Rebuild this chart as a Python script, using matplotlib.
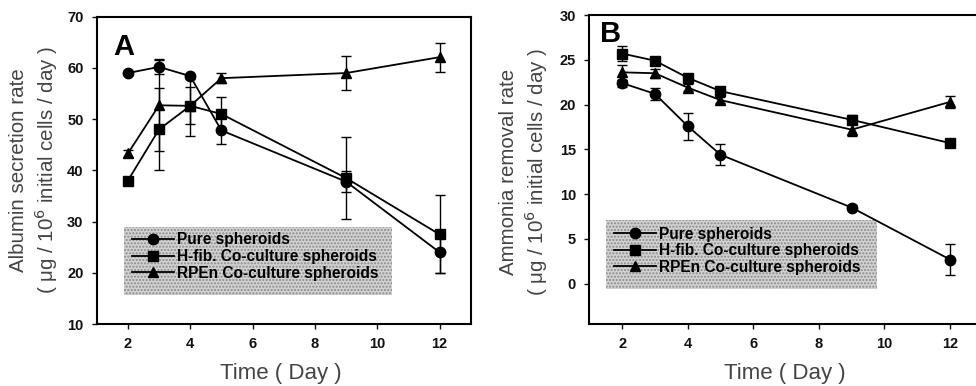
import matplotlib
matplotlib.use("Agg")
import matplotlib.pyplot as plt
from matplotlib.patches import Rectangle
from matplotlib.lines import Line2D

plt.rcParams['font.family'] = ['Liberation Sans', 'DejaVu Sans']

days = [2, 3, 4, 5, 9, 12]
labels = ["Pure spheroids", "H-fib. Co-culture spheroids", "RPEn Co-culture spheroids"]

# Panel A: albumin secretion
alb_pure = [59.0, 60.2, 58.4, 47.8, 37.8, 24.0]
alb_pure_err = [0.4, 1.3, 0.5, 2.7, 2.0, 4.0]
alb_hfib = [38.0, 48.0, 52.6, 51.0, 38.5, 27.5]
alb_hfib_err = [0.4, 8.0, 5.8, 3.3, 8.0, 7.6]
alb_rpen = [43.3, 52.7, 52.6, 58.0, 59.0, 62.1]
alb_rpen_err = [0.6, 9.0, 3.6, 1.0, 3.3, 2.8]

# Panel B: ammonia removal
amm_pure = [22.4, 21.2, 17.6, 14.4, 8.5, 2.7]
amm_pure_err = [0.4, 0.7, 1.5, 1.2, 0.3, 1.7]
amm_hfib = [25.7, 24.9, 23.0, 21.5, 18.3, 15.7]
amm_hfib_err = [0.8, 0.4, 0.3, 0.3, 0.5, 0.2]
amm_rpen = [23.6, 23.5, 21.9, 20.5, 17.2, 20.3]
amm_rpen_err = [0.8, 0.5, 0.4, 0.3, 0.7, 0.7]

fig = plt.figure(figsize=(9.76, 3.86), dpi=100)
axA = fig.add_axes([0.0991, 0.1606, 0.3832, 0.7961])
axB = fig.add_axes([0.6038, 0.1606, 0.4032, 0.8005])

markers = ['o', 's', '^']
msizes = [7.5, 7, 7.5]

def draw(ax, series, errs, yticks, ylim):
    for y, e, m, ms, lab in zip(series, errs, markers, msizes, labels):
        ax.errorbar(days, y, yerr=e, color='black', marker=m, markersize=ms,
                    linewidth=1.3, elinewidth=1.0, capsize=3.5, capthick=1.0,
                    label=lab, zorder=4)
    ax.set_xlim(1, 13)
    ax.set_ylim(*ylim)
    ax.set_xticks([2, 4, 6, 8, 10, 12])
    ax.set_yticks(yticks)
    for s in ax.spines.values():
        s.set_linewidth(1.5)
    ax.tick_params(direction='out', length=3.5, width=1.0, pad=6,
                   labelsize=10.5, colors='#111111')
    for t in ax.get_xticklabels() + ax.get_yticklabels():
        t.set_fontweight('bold')

draw(axA, [alb_pure, alb_hfib, alb_rpen], [alb_pure_err, alb_hfib_err, alb_rpen_err],
     [10, 20, 30, 40, 50, 60, 70], (10, 70))
draw(axB, [amm_pure, amm_hfib, amm_rpen], [amm_pure_err, amm_hfib_err, amm_rpen_err],
     [0, 5, 10, 15, 20, 25, 30], (-4.5, 30))

def legend_box(ax, x0, y0, w, h, hx, ytop):
    ax.add_patch(Rectangle((x0, y0), w, h, transform=ax.transAxes,
                           facecolor='#d2d2d2', edgecolor='#8a8a8a', hatch='.....',
                           linewidth=0, zorder=1))
    handles = [Line2D([], [], color='black', marker=m, markersize=ms, linewidth=1.3)
               for m, ms in zip(markers, msizes)]
    leg = ax.legend(handles=handles, labels=labels,
                    loc='upper left', bbox_to_anchor=(hx, ytop), frameon=False,
                    borderpad=0, borderaxespad=0, handlelength=2.7, handletextpad=0.2,
                    labelspacing=0.1, prop={'weight': 'bold', 'size': 11.2})
    leg.set_zorder(3)
    return leg

legend_box(axA, 0.073, 0.094, 0.717, 0.222, 0.095, 0.298)
legend_box(axB, 0.042, 0.113, 0.689, 0.224, 0.063, 0.315)

# panel letters
axA.text(0.044, 0.875, 'A', transform=axA.transAxes, fontsize=21, fontweight='bold',
         ha='left', va='baseline')
axB.text(0.027, 0.913, 'B', transform=axB.transAxes, fontsize=21, fontweight='bold',
         ha='left', va='baseline')

# axis labels
lab_col = '#444444'
fig.text(34.5 / 976, 1 - 170 / 386,
         "Albumin secretion rate\n( \u03bcg / 10$^6$ initial cells / day )",
         rotation=90, ha='center', va='center', multialignment='center',
         fontsize=14.8, color=lab_col, linespacing=1.2)
fig.text(524.5 / 976, 1 - 172 / 386,
         "Ammonia removal rate\n( \u03bcg / 10$^6$ initial cells / day )",
         rotation=90, ha='center', va='center', multialignment='center',
         fontsize=14.8, color=lab_col, linespacing=1.2)
fig.text(281 / 976, 1 - 374 / 386, "Time ( Day )", ha='center', va='center',
         fontsize=16, color=lab_col)
fig.text(785 / 976, 1 - 374 / 386, "Time ( Day )", ha='center', va='center',
         fontsize=16, color=lab_col)

fig.savefig('out.png', dpi=100)
